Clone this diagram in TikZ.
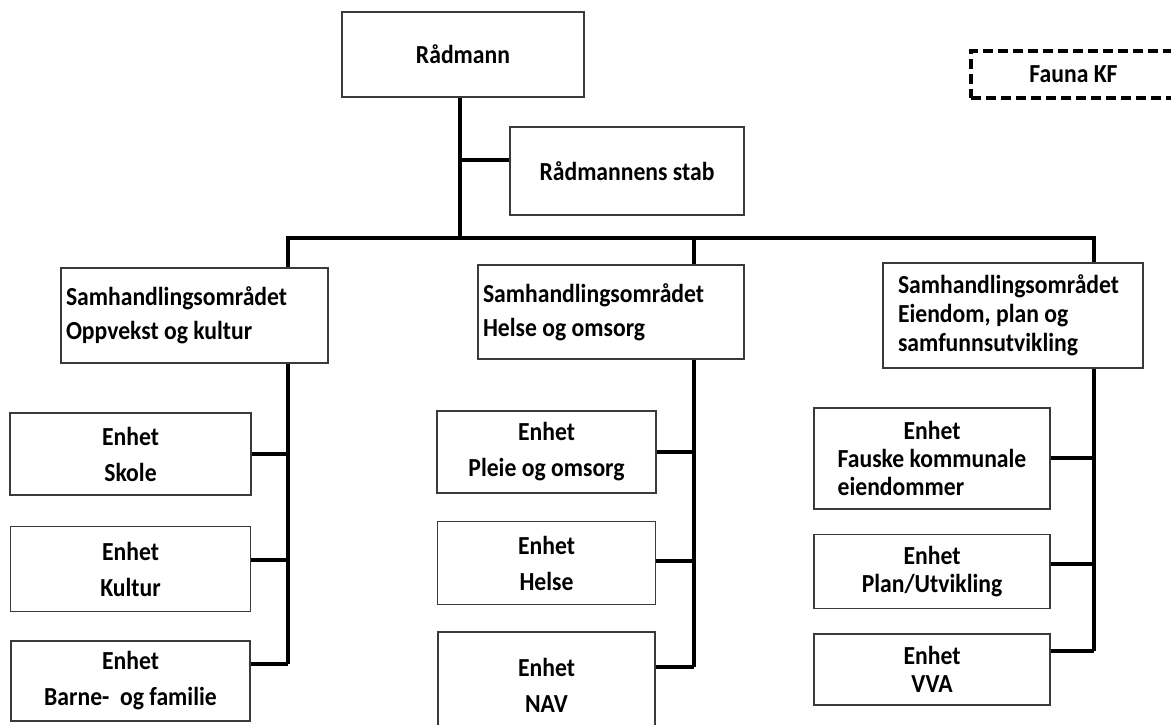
\documentclass[tikz,border=0pt]{standalone}
\usepackage{fontspec}
\setmainfont{Carlito}[FakeStretch=0.91]
\usetikzlibrary{positioning}
\definecolor{cBox}{HTML}{3A3A3A}
\definecolor{cLine}{HTML}{000000}
\tikzset{
  blk/.style={draw=cBox, line width=1.5pt, fill=white, align=center,
              inner sep=0pt, font=\bfseries\fontsize{26}{36}\selectfont},
  area/.style={blk, align=flush left, inner xsep=5pt, inner ysep=0pt,
               font=\bfseries\fontsize{26}{34}\selectfont},
  unit/.style={blk},
  unitr/.style={blk, font=\bfseries\fontsize{26}{28}\selectfont},
  kfbox/.style={blk, draw=black, line width=3.5pt, dash pattern=on 10pt off 5pt},
  conn/.style={draw=cLine, line width=4pt},
}

\begin{document}
\begin{tikzpicture}[x=1pt, y=-1pt]
    \useasboundingbox (0,0) rectangle (1171,725);
    \clip (0,0) rectangle (1171,725);

    % top level
    \node[blk, minimum width=242pt, minimum height=85pt] (rad) at (463,54.5) {Rådmann};
    \node[blk, minimum width=234pt, minimum height=88pt] (stab) at (627,171) {Rådmannens stab};
    \node[kfbox, minimum width=205pt, minimum height=47pt] (fauna) at (1073.5,74.5) {Fauna KF};

    % samhandlingsomraader
    \node[area, text width=257pt, minimum height=95pt] (oppv) at (194.5,315.5)
      {Samhandlingsområdet\\Oppvekst og kultur};
    \node[area, text width=256pt, minimum height=94pt] (helse) at (611,312)
      {Samhandlingsområdet\\Helse og omsorg};
    \node[area, inner xsep=15pt, text width=230pt, minimum height=105pt,
          font=\bfseries\fontsize{26}{29}\selectfont] (eiend) at (1013,315.5)
      {Samhandlingsområdet\\Eiendom, plan og\\samfunnsutvikling};

    % enheter
    \node[unit, minimum width=241pt, minimum height=82pt] (skole) at (130.5,454) {Enhet\\Skole};
    \node[unit, minimum width=240pt, minimum height=85pt, below=30pt of skole] (kultur) {Enhet\\Kultur};
    \node[unit, minimum width=239pt, minimum height=80pt, below=28pt of kultur] (barne) {Enhet\\Barne-~ og familie};

    \node[unit, minimum width=219pt, minimum height=82pt] (pleie) at (546.5,452) {Enhet\\Pleie og omsorg};
    \node[unit, minimum width=218pt, minimum height=83pt, below=27pt of pleie] (helseu) {Enhet\\Helse};
    \node[unit, minimum width=217pt, minimum height=106pt, below=26pt of helseu] (nav) {Enhet\\NAV};

    \node[unitr, minimum width=236pt, minimum height=101pt] (fauske) at (932,458.5)
      {Enhet\\Fauske kommunale\\\rlap{eiendommer}\phantom{Fauske kommunale}};
    \node[unitr, minimum width=236pt, minimum height=74pt, below=24pt of fauske] (plan) {Enhet\\Plan/Utvikling};
    \node[unitr, minimum width=236pt, minimum height=71pt, below=24pt of plan] (vva) {Enhet\\VVA};

    % linjer
    \coordinate (busL) at (288,238);
    \coordinate (busM) at (694,238);
    \coordinate (busR) at (1094,238);
    \draw[conn] (rad.south -| 460,0) -- (busL -| 460,0);
    \coordinate (jstab) at ([yshift=11pt]stab.west);
    \draw[conn] (jstab -| 460,0) -- (jstab);
    \draw[conn] (busL |- oppv.north) -- (busL) -- (busR) -- (busR |- eiend.north);
    \draw[conn] (busM) -- (busM |- helse.north);

    \foreach \u/\s in {skole/0, kultur/9, barne/17}{
      \coordinate (j\u) at ([yshift=\s pt]\u.east);
      \draw[conn] (j\u) -- (j\u -| busL);
    }
    \draw[conn] (busL |- oppv.south) -- (busL |- jbarne);

    \foreach \u/\s in {pleie/0, helseu/2, nav/18}{
      \coordinate (j\u) at ([yshift=\s pt]\u.east);
      \draw[conn] (j\u) -- (j\u -| busM);
    }
    \draw[conn] (busM |- helse.south) -- (busM |- jnav);

    \foreach \u/\s in {fauske/1, plan/8, vva/19}{
      \coordinate (j\u) at ([yshift=\s pt]\u.east);
      \draw[conn] (j\u) -- (j\u -| busR);
    }
    \draw[conn] (busR |- eiend.south) -- (busR |- jvva);
  \end{tikzpicture}
\end{document}
